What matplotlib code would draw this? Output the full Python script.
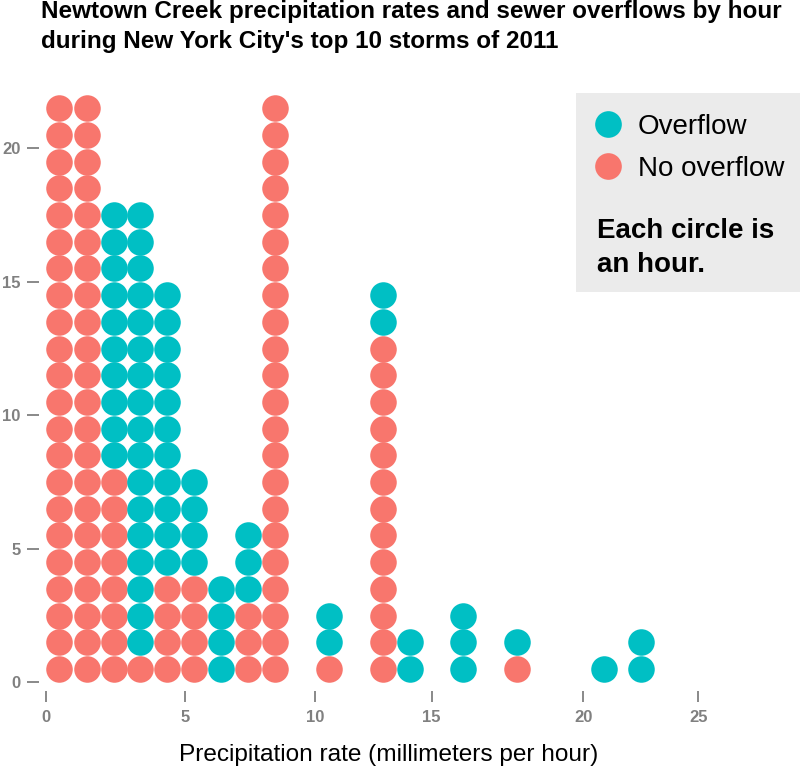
import matplotlib
matplotlib.use('Agg')
import matplotlib.pyplot as plt
from matplotlib.lines import Line2D
from matplotlib.patches import Rectangle

plt.rcParams['font.family'] = ['Liberation Sans', 'DejaVu Sans']

# column positions (axis units) and hour counts per column
col_x = [0.51, 1.57, 2.59, 3.60, 4.63, 5.68, 6.70, 7.73, 8.78,
         10.86, 12.91, 13.94, 15.99, 18.07, 21.39, 22.81]
n_no_overflow = [22, 22, 8, 1, 4, 4, 0, 3, 22, 1, 13, 0, 0, 1, 0, 0]
n_overflow = [0, 0, 10, 17, 11, 4, 4, 3, 0, 2, 2, 2, 3, 1, 1, 2]

x_tick_pos = [0, 5.33, 10.31, 14.78, 20.59, 25]
x_tick_labels = ['0', '5', '10', '15', '20', '25']
y_ticks = [0, 5, 10, 15, 20]

RED = '#F8766D'
TEAL = '#00BFC4'
GREY = '#808080'

W, H = 800, 766
fig = plt.figure(figsize=(W / 100, H / 100), dpi=100)
ax = fig.add_axes([39 / W, (H - 691) / H, (760 - 39) / W, (691 - 85) / H])
ax.patch.set_visible(False)

# stack the circles: no-overflow hours at the bottom, overflow hours on top
for x, nr, nt in zip(col_x, n_no_overflow, n_overflow):
    ys = [k + 0.5 for k in range(nr + nt)]
    ax.scatter([x] * nr, ys[:nr], s=365, color=RED, linewidths=0)
    ax.scatter([x] * nt, ys[nr:], s=365, color=TEAL, linewidths=0)

ax.set_xlim(-0.268, 27.37)
ax.set_ylim(-0.326, 22.37)
ax.set_xticks(x_tick_pos)
ax.set_xticklabels(x_tick_labels)
ax.set_yticks(y_ticks)
for s in ax.spines.values():
    s.set_visible(False)
ax.tick_params(axis='x', length=8, width=1.3, color=GREY, pad=6,
               labelsize=12, labelcolor=GREY)
ax.tick_params(axis='y', length=8.3, width=1.3, color=GREY, pad=5,
               labelsize=12, labelcolor=GREY)
for lab in ax.get_xticklabels() + ax.get_yticklabels():
    lab.set_fontweight('bold')

fig.text(388.5 / W, 1 - 760.5 / H, 'Precipitation rate (millimeters per hour)',
         ha='center', va='baseline', fontsize=17.6)

# title
fig.text(41 / W, 1 - 18.3 / H,
         'Newtown Creek precipitation rates and sewer overflows by hour',
         ha='left', va='baseline', fontsize=17.5, fontweight='bold')
fig.text(41 / W, 1 - 48.3 / H,
         "during New York City's top 10 storms of 2011",
         ha='left', va='baseline', fontsize=17.5, fontweight='bold')

# legend box
fig.add_artist(Rectangle((575.7 / W, 1 - 291.7 / H), (W - 575.7) / W,
                         (291.7 - 92.7) / H, transform=fig.transFigure,
                         facecolor='#ebebeb', edgecolor='none', zorder=1))
for yy, col, lab in [(124, TEAL, 'Overflow'), (165.7, RED, 'No overflow')]:
    fig.add_artist(Line2D([607.7 / W], [1 - yy / H], marker='o', ms=19.2,
                          color=col, mew=0, linestyle='none',
                          transform=fig.transFigure, zorder=5))
    fig.text(637.7 / W, 1 - yy / H, lab, ha='left', va='center_baseline',
             fontsize=20, zorder=5)
fig.text(596.7 / W, 1 - 238.3 / H, 'Each circle is', ha='left',
         va='baseline', fontsize=20, fontweight='bold', zorder=5)
fig.text(596.7 / W, 1 - 271.7 / H, 'an hour.', ha='left',
         va='baseline', fontsize=20, fontweight='bold', zorder=5)

fig.savefig('out.png', dpi=100)
